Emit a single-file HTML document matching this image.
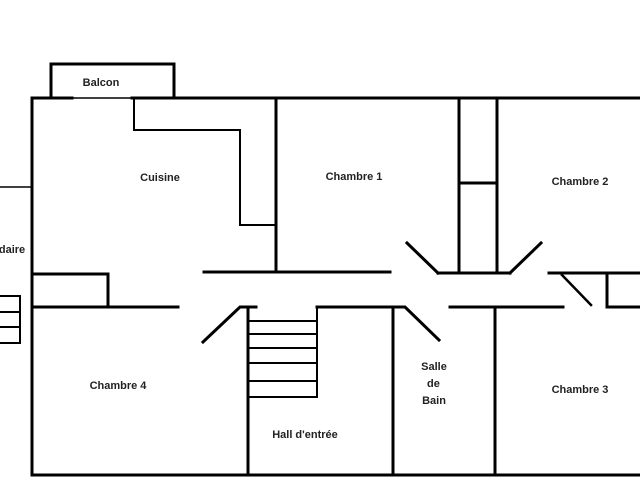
<!DOCTYPE html>
<html><head><meta charset="utf-8"><style>
html,body{margin:0;padding:0;background:#fff;}
svg{display:block}
text{font-family:"Liberation Sans",sans-serif;font-weight:bold;font-size:11px;fill:#222;text-anchor:middle}
</style></head><body>
<svg width="640" height="480" viewBox="0 0 640 480" xmlns="http://www.w3.org/2000/svg">
<g stroke="#000" stroke-width="3" fill="none" stroke-linecap="square">
<!-- balcon -->
<path d="M51 97 V64 H174 V97"/>
<!-- top wall -->
<path d="M32 98 H72"/>
<path d="M72 98 H132" stroke-width="1.5"/>
<path d="M132 98 H640"/>
<!-- left wall -->
<path d="M32 98 V475"/>
<path d="M0 187 H31" stroke-width="1.5"/>
<path d="M0 296 H20 V343 H0 M0 312 H20 M0 327 H20" stroke-width="2"/>
<!-- kitchen counter -->
<path d="M134 98 V130 H240 V225 H276" stroke-width="2"/>
<path d="M276 98 V272"/>
<path d="M204 272 H390"/>
<path d="M32 274 H108 V306"/>
<path d="M32 307 H178"/>
<!-- closet between ch1 and ch2 -->
<path d="M459 98 V273 M497 98 V273 M459 183 H497"/>
<path d="M438 273 H510 M438 273 L407 243 M510 273 L541 243"/>
<path d="M549 273 H640 M607 273 V307 H640"/>
<path d="M562 275 L591 305" stroke-width="2.5"/>
<path d="M450 307 H563"/>
<path d="M495 307 V475"/>
<!-- hall -->
<path d="M203 342 L240 307 H256"/>
<path d="M248 307 V475"/>
<path d="M249 321 H317 M249 334 H317 M249 348 H317 M249 363 H317 M249 381 H317 M249 397 H317 M317 307 V397" stroke-width="2"/>
<path d="M317 307 H405 L439 340"/>
<path d="M393 307 V475"/>
<!-- bottom -->
<path d="M32 475 H640"/>
</g>
<text x="101" y="86">Balcon</text>
<text x="160" y="181">Cuisine</text>
<text x="354" y="180">Chambre 1</text>
<text x="580" y="185">Chambre 2</text>
<text x="12" y="253">daire</text>
<text x="118" y="389">Chambre 4</text>
<text x="305" y="438">Hall d'entrée</text>
<text x="434" y="370">Salle</text>
<text x="427" y="387" style="text-anchor:start">de</text>
<text x="434" y="404">Bain</text>
<text x="580" y="393">Chambre 3</text>
</svg>
</body></html>
